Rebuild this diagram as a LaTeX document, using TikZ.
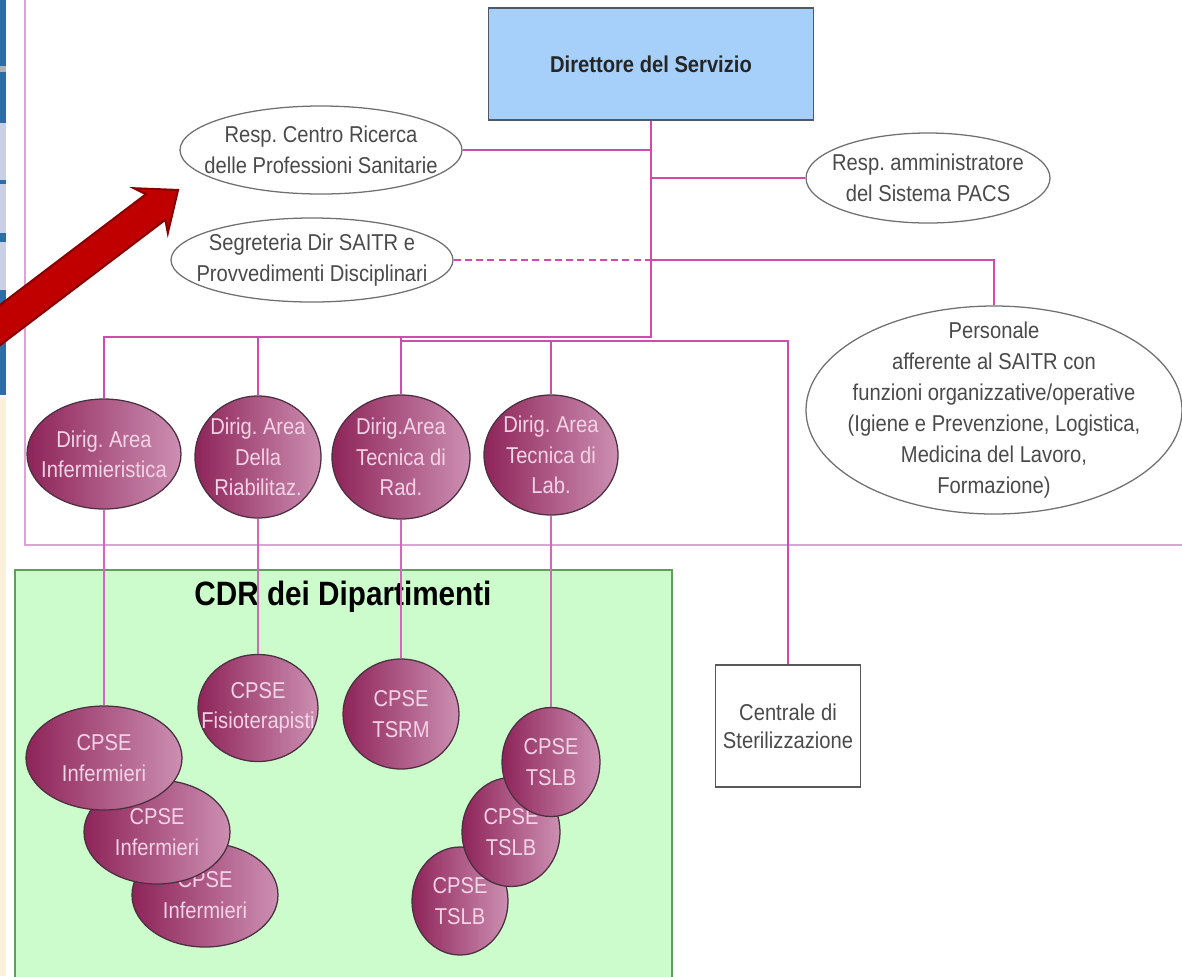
\documentclass[tikz,border=0pt]{standalone}
\usepackage{fontspec}
\setmainfont{Liberation Sans}
\newfontfamily\narrowsf[FakeStretch=0.88]{Liberation Sans}
\usepackage{tikz}
\usetikzlibrary{positioning, calc, shapes.geometric}
\frenchspacing

\definecolor{stripblue}{HTML}{2B6DA6}
\definecolor{striplav}{HTML}{C9D0E6}
\definecolor{stripcream}{HTML}{FBF0DA}
\definecolor{framepink}{HTML}{DCA4D2}
\definecolor{linkpink}{HTML}{CF4BAE}
\definecolor{dirblue}{HTML}{A6D0FA}
\definecolor{dirrim}{HTML}{4E5866}
\definecolor{ovalrim}{HTML}{707070}
\definecolor{ovaltext}{HTML}{4A4A4A}
\definecolor{balldark}{HTML}{8E2459}
\definecolor{balllight}{HTML}{CC8FB2}
\definecolor{ballrim}{HTML}{4A3040}
\definecolor{balltext}{HTML}{F3D3E6}
\definecolor{cdrgreen}{HTML}{CCFCCC}
\definecolor{cdrrim}{HTML}{5F9E5F}
\definecolor{arrowred}{HTML}{C00000}
\definecolor{arrowrim}{HTML}{8A0000}

\begin{document}
\begin{tikzpicture}
    [x=0.025cm, y=-0.025cm,
     sz/.style 2 args={minimum width=#1*0.025cm, minimum height=#2*0.025cm},
     box/.style={draw=dirrim, line width=0.9pt, fill=dirblue, inner sep=0pt,
       font=\narrowsf\bfseries\fontsize{16.3}{20}\selectfont, text=black!85},
     plainbox/.style={draw=black!65, line width=0.9pt, fill=white, inner sep=0pt, align=center,
       text=ovaltext, font=\narrowsf\fontsize{16.3}{20}\selectfont},
     oval/.style={ellipse, draw=ovalrim, line width=0.9pt, fill=white, inner sep=0pt},
     ovaltxt/.style={text=ovaltext, align=center, inner sep=0pt,
       font=\narrowsf\fontsize{16.3}{22}\selectfont},
     ball/.style={ellipse, draw=ballrim, line width=0.9pt, left color=balldark,
       right color=balllight, inner sep=0pt},
     balltxt/.style={text=balltext, align=center, inner sep=0pt,
       font=\narrowsf\fontsize{16.3}{21.5}\selectfont},
     conn/.style={draw=linkpink, line width=2pt},
     link/.style={draw=linkpink!85, line width=0.9pt},
     frame/.style={draw=framepink, line width=1.3pt}]

    \useasboundingbox (0,0) rectangle (1182,976);
    \clip (0,0) rectangle (1182,976);
    \fill[white] (0,0) rectangle (1182,976);

    % slide edge on the left
    \fill[stripblue] (0,0) rectangle (6,395);
    \fill[black!30] (0,66) rectangle (6,72);
    \fill[striplav] (0,123) rectangle (6,180);
    \fill[striplav] (0,184) rectangle (6,233);
    \fill[striplav] (0,242) rectangle (6,290);
    \fill[stripcream] (0,397) rectangle (6,976);

    % service frame and CDR area
    \draw[frame] (25,-5) -- (25,545) -- (1190,545);
    \draw[draw=cdrrim, fill=cdrgreen, line width=1pt] (15,570) rectangle (672,990);
    \node[font=\narrowsf\bfseries\fontsize{24}{28}\selectfont, anchor=base] (cdrTitle)
      at (343,605) {CDR dei Dipartimenti};

    % top level
    \node[box, sz={325}{112}] (dir) at (651,64) {Direttore del Servizio};
    \node[oval, sz={282}{88},
      label={[ovaltxt]center:{Resp. Centro Ricerca\\delle Professioni Sanitarie}}] (resp) at (321,150) {};
    \node[oval, sz={282}{84},
      label={[ovaltxt]center:{Segreteria Dir SAITR e\\Provvedimenti Disciplinari}}] (segr) at (312,260) {};
    \node[oval, sz={244}{90},
      label={[ovaltxt]center:{Resp. amministratore\\del Sistema PACS}}] (amm) at (928,178) {};
    \node[oval, sz={376}{208},
      label={[ovaltxt]center:{Personale\\afferente al SAITR con\\funzioni organizzative/operative\\(Igiene e Prevenzione, Logistica,\\Medicina del Lavoro,\\Formazione)}}] (pers) at (994,410) {};

    % area directors
    \node[ball, sz={154}{110},
      label={[balltxt]center:{Dirig. Area\\Infermieristica}}] (dirInf) at (104,454) {};
    \node[ball, sz={126}{122},
      label={[balltxt]center:{Dirig. Area\\Della\\Riabilitaz.}}] (dirRia) at (258,457) {};
    \node[ball, sz={138}{124},
      label={[balltxt]center:{Dirig.Area\\Tecnica di\\Rad.}}] (dirRad) at (401,457) {};
    \node[ball, sz={134}{120},
      label={[balltxt]center:{Dirig. Area\\Tecnica di\\Lab.}}] (dirLab) at (551,455) {};

    % CPSE of the departments
    \node[ball, sz={146}{104}, label={[balltxt]center:{CPSE\\Infermieri}}] (cpInf3) at (205,895) {};
    \node[ball, sz={146}{104}, label={[balltxt]center:{CPSE\\Infermieri}}] (cpInf2) at (157,832) {};
    \node[ball, sz={156}{104}, label={[balltxt]center:{CPSE\\Infermieri}}] (cpInf1) at (104,758) {};
    \node[ball, sz={120}{107}, label={[balltxt]center:{CPSE\\Fisioterapisti}}] (cpFis) at (258,708) {};
    \node[ball, sz={116}{110}, label={[balltxt]center:{CPSE\\TSRM}}] (cpTsrm) at (401,714) {};
    \node[ball, sz={96}{108}, label={[balltxt]center:{CPSE\\TSLB}}] (cpLab3) at (460,901) {};
    \node[ball, sz={98}{109}, label={[balltxt]center:{CPSE\\TSLB}}] (cpLab2) at (511,832) {};
    \node[ball, sz={98}{109}, label={[balltxt]center:{CPSE\\TSLB}}] (cpLab1) at (551,762) {};

    \node[plainbox, sz={145}{122}] (cent) at (788,726) {Centrale di\\Sterilizzazione};

    % connectors
    \coordinate (jA) at (651,337);
    \coordinate (jB) at (401,341);
    \draw[conn] (dir.south) -- (jA) -| (dirInf.north);
    \draw[conn] (jA) -| (dirRia.north);
    \draw[conn] (jA) -| (dirRad.north);
    \draw[conn] (jB) -| (dirLab.north);
    \draw[conn] (jB) -| (cent.north);
    \draw[conn] (resp.east) -- (resp.east -| dir.south);
    \draw[conn] (amm.west) -- (amm.west -| dir.south);
    \draw[conn, dash pattern=on 5pt off 3pt] (segr.east) -- (segr.east -| dir.south);
    \draw[conn] (segr.east -| dir.south) -| (pers.north);

    \draw[link] (dirInf.south) -- (cpInf1.north);
    \draw[link] (dirRia.south) -- (cpFis.north);
    \draw[link] (dirRad.south) -- (cpTsrm.north);
    \draw[link] (dirLab.south) -- (cpLab1.north);

    % red pointer
    \begin{scope}[shift={(178,190)}, rotate=37.2]
      \draw[draw=arrowrim, fill=arrowred, line width=1.5pt]
        (0,0) -- (-34,-28) -- (-28,-16) -- (-320,-16) -- (-320,16) -- (-28,16) -- (-34,28) -- cycle;
    \end{scope}
\end{tikzpicture}
\end{document}
